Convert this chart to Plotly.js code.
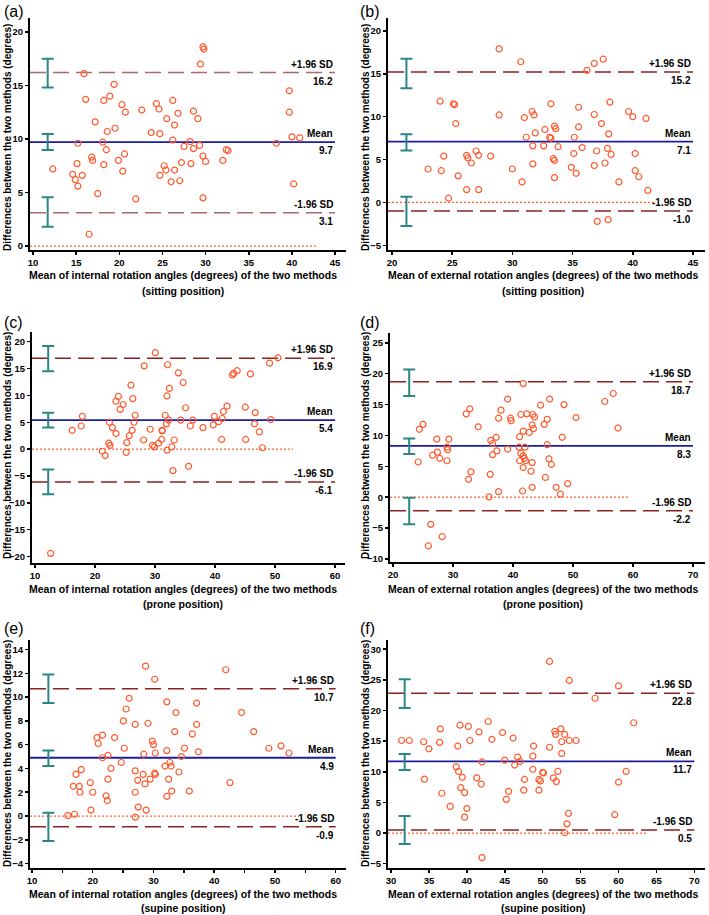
<!DOCTYPE html>
<html><head><meta charset="utf-8">
<script src="https://cdn.plot.ly/plotly-3.0.1.min.js"></script>
<style>html,body{margin:0;padding:0;background:#fff}#chart{width:709px;height:915px}</style>
</head><body><div id="chart"></div>
<script>
// ---------- data ----------
const panelLetters = ['(a)','(b)','(c)','(d)','(e)','(f)'];

const aMeanAngle = [29.7,29.8,29.4,15.9,19.4,18.9,16.1,18.2,20.3,20.7,22.6,24.3,24.6,26.2,26.8,25.5,26.4,28.6,29.1,17.2,18.6,19.5,23.7,24.7,15.2,18.1,18.5,26.2,28.2,27.5,28.6,29.3,32.4,32.6,38.2,39.7,39.7,40.0,40.9,40.2,16.8,16.9,15.1,18.2,19.9,20.6,20.4,12.3,14.6,14.9,15.7,15.2,17.5,21.9,16.5,29.7,30.0,32.0,27.2,28.3,25.2,25.4,26.4,24.7,26.0,27.0,29.7];
const aDifference = [18.6,18.4,17.0,16.1,15.1,14.0,13.7,13.6,13.2,12.5,12.7,13.3,12.8,13.6,12.4,11.9,11.3,12.6,11.9,11.6,10.7,11.0,10.6,10.5,9.6,9.7,9.0,9.9,9.75,9.3,9.1,9.4,9.0,8.9,9.6,14.5,12.5,10.2,10.1,5.8,8.3,8.0,7.7,7.6,8.0,8.6,7.0,7.2,6.7,6.2,6.6,5.6,4.9,4.4,1.1,8.4,7.9,8.0,7.8,7.7,7.5,7.1,7.1,6.6,6.0,6.1,4.5];

const bMeanAngle = [28.9,30.7,37.55,36.8,36.2,24.0,25.1,25.2,25.3,28.9,31.0,31.65,31.8,33.2,35.5,38.1,36.8,39.65,40.0,41.1,37.4,35.5,33.5,33.6,32.7,31.9,31.15,33.1,33.2,35.15,38.0,31.7,32.6,33.8,35.8,37.9,37.0,38.2,40.2,35.1,24.3,26.2,26.3,27.2,27.0,26.6,28.2,23.0,24.1,25.5,26.2,27.2,24.7,30.0,30.8,31.7,33.4,33.5,33.5,34.9,35.3,36.8,37.7,40.2,40.5,38.85,41.25,37.05,37.95];
const bDifference = [17.9,16.4,16.7,16.2,15.4,11.8,11.5,11.4,9.2,10.2,9.9,10.6,10.2,11.5,11.1,11.7,10.25,10.6,10.0,9.8,9.2,8.8,8.9,8.6,8.5,8.1,7.6,7.6,7.5,7.6,8.0,6.6,6.6,6.5,6.4,6.3,6.0,5.6,5.7,5.7,5.4,5.5,5.2,5.5,6.0,4.6,5.4,3.9,3.7,3.1,1.5,1.5,0.5,3.9,2.4,4.5,5.1,4.9,2.9,4.1,3.4,4.3,4.6,3.7,3.0,2.4,1.4,-2.2,-2.0];

const cMeanAngle = [12.6,30.05,50.5,28.2,32.1,33.9,34.7,32.4,32.0,49.1,42.9,43.1,43.7,45.9,26.0,23.9,23.5,24.7,26.3,24.2,26.7,35.1,42.0,41.4,45.05,46.7,17.9,16.2,17.7,22.4,22.9,23.5,25.7,26.2,26.5,29.2,31.2,31.2,31.7,31.9,32.3,34.3,35.9,36.3,38.0,39.7,39.9,40.6,41.2,49.3,46.6,47.4,41.1,45.1,47.9,25.3,22.3,22.5,21.2,21.7,25.2,28.1,29.6,29.9,30.6,31.1,32.0,32.8,33.2,33.0,35.6];
const cDifference = [-19.4,17.95,17.0,15.5,15.7,14.2,12.4,11.3,9.9,16.0,13.8,14.1,14.6,14.0,11.9,9.8,8.9,8.3,9.4,7.4,6.3,7.7,8.0,7.0,7.8,6.8,6.1,3.5,4.3,5.0,4.0,2.9,2.5,3.5,5.0,3.7,3.5,3.4,6.3,4.7,5.4,5.4,4.3,5.4,4.0,4.5,6.1,5.1,5.7,5.5,4.7,3.2,1.8,1.8,0.25,1.2,1.1,0.7,-0.4,-1.2,-0.6,1.7,0.7,0.4,1.1,1.8,-0.2,0.4,1.7,-4.0,-3.2];

const dMeanAngle = [41.7,56.7,55.3,46.1,48.5,44.6,39.1,32.8,32.2,38.0,37.6,39.6,39.7,41.3,42.3,43.3,43.6,45.7,50.5,45.2,43.2,43.4,42.7,41.7,41.1,34.2,57.5,48.2,25.0,24.4,27.3,29.3,37.2,36.3,36.6,29.0,29.1,27.4,26.6,27.8,29.0,24.2,39.1,37.3,36.6,41.0,42.0,45.7,41.3,41.7,41.9,41.1,42.1,43.2,46.0,46.4,41.7,43.0,33.0,32.6,36.2,45.4,49.1,47.2,47.9,43.2,41.6,37.6,36.0,26.3,28.2,25.9];
const dDifference = [18.4,16.8,15.5,15.9,15.0,14.9,15.9,14.3,13.5,14.1,12.8,12.8,12.4,13.4,13.5,13.4,13.0,12.6,12.9,11.8,11.7,11.1,10.5,10.7,9.8,11.4,11.2,9.7,11.8,11.0,9.4,9.4,9.7,9.2,8.7,8.1,7.7,7.3,6.8,6.3,5.9,5.7,7.8,7.5,6.9,8.1,8.1,8.5,7.1,6.7,6.3,5.9,5.9,5.6,6.2,5.3,4.8,4.2,4.1,2.9,3.7,3.2,2.2,1.6,0.5,1.6,1.0,0.9,0.05,-4.4,-6.4,-7.9];

const eMeanAngle = [28.7,41.9,30.2,26.0,32.2,37.1,25.5,33.7,44.5,25.05,27.0,29.1,37.1,33.5,46.5,36.4,20.7,21.6,23.6,20.9,29.8,30.0,25.2,35.1,32.2,37.4,49.0,51.0,52.3,21.6,22.5,28.4,30.3,32.7,34.6,24.7,31.9,32.9,18.1,17.25,23.0,27.0,28.3,30.2,30.3,34.2,22.5,27.4,29.45,28.6,32.5,16.8,17.8,19.6,17.9,20.0,22.2,22.4,27.0,33.0,32.2,35.9,42.6,19.7,27.5,28.8,15.9,17.0,27.0];
const eDifference = [12.6,12.3,11.5,9.9,9.6,9.5,9.0,8.7,8.7,8.0,7.7,7.8,7.7,7.1,7.1,6.9,6.6,6.8,6.6,6.1,6.3,6.0,5.7,5.7,5.5,5.4,5.7,5.9,5.3,4.9,5.1,5.2,5.3,4.5,5.0,4.5,4.2,4.2,3.9,3.5,4.0,3.8,3.5,3.6,3.5,3.7,3.1,3.0,3.1,2.7,3.1,2.5,2.5,2.8,2.0,2.0,1.7,1.3,2.0,2.1,1.65,2.1,2.8,0.5,0.75,0.5,0.03,0.15,-0.1];

const fMeanAngle = [50.9,53.5,60.0,56.9,62.0,42.8,39.1,40.2,36.5,41.6,44.7,46.1,43.3,51.6,51.7,52.4,52.9,31.4,32.4,34.3,36.4,40.4,52.5,53.5,54.4,35.0,38.8,48.8,50.9,52.5,46.7,48.7,42.0,45.0,46.3,47.0,38.6,38.9,48.7,50.0,50.1,52.0,61.0,34.4,39.4,41.3,41.9,47.6,49.5,49.7,51.4,51.8,60.0,39.2,39.7,36.7,45.5,47.5,49.5,45.2,37.8,40.0,39.7,53.4,59.5,53.2,52.9,42.0];
const fDifference = [28.0,24.9,24.0,22.0,18.0,18.2,17.6,17.4,17.0,16.5,16.4,15.5,15.3,16.6,16.1,17.0,16.1,15.1,15.1,14.9,14.8,15.1,14.9,15.1,15.1,13.75,14.2,14.2,14.0,13.0,12.4,12.55,11.6,11.9,11.1,11.7,10.8,10.05,10.4,9.9,9.8,10.05,10.05,8.8,9.1,9.0,8.0,8.75,8.75,8.5,9.0,8.4,8.3,7.4,6.6,6.5,6.8,7.0,7.0,5.5,4.35,4.0,2.6,3.2,3.0,1.5,0.05,-4.0];

// Bland-Altman statistics per panel (a..f)
const meanDiff  = [9.7, 7.1, 5.4, 8.3, 4.9, 11.7];
const upperLoA  = [16.2, 15.2, 16.9, 18.7, 10.7, 22.8];
const lowerLoA  = [3.1, -1.0, -6.1, -2.2, -0.9, 0.5];
// 95% confidence intervals of mean / limits
const meanCILow  = [8.97, 6.05, 4.04, 7.0, 4.2, 10.3];
const meanCIHigh = [10.47, 7.95, 6.77, 9.5, 5.5, 12.9];
const upperCILow  = [14.8, 13.3, 14.5, 16.4, 9.5, 20.4];
const upperCIHigh = [17.5, 16.75, 19.2, 20.7, 11.9, 25.1];
const lowerCILow  = [1.8, -2.74, -8.4, -4.4, -2.1, -1.8];
const lowerCIHigh = [4.55, 0.68, -3.8, -0.1, 0.28, 2.8];
const ciPosition  = [11.7, 21.2, 12.2, 22.7, 12.7, 31.8];
const zeroLineEnd = [42.8, 41.8, 53.0, 59.5, 54.0, 63.8];

// tick labels
const aXTicks = [10,15,20,25,30,35,40,45];
const bXTicks = [20,25,30,35,40,45];
const cXTicks = [10,20,30,40,50,60];
const dXTicks = [20,30,40,50,60,70];
const eXTicks = [10,15,20,25,30,35,40,45,50,55,60];
const eXTickText = ['10','','20','','30','','40','','50','','60'];
const fXTicks = [30,35,40,45,50,55,60,65,70];
const aYTicks = [0,5,10,15,20];
const bYTicks = [-5,0,5,10,15,20];
const cYTicks = [-20,-15,-10,-5,0,5,10,15,20];
const dYTicks = [-10,-5,0,5,10,15,20,25];
const eYTicks = [-4,-2,0,2,4,6,8,10,12,14];
const fYTicks = [-5,0,5,10,15,20,25,30];

const yTitleText = 'Differences between the two methods (degrees)';
const xTitleLine1 = [
  'Mean of internal rotation angles (degrees) of the two methods',
  'Mean of external rotation angles (degrees) of the two methods',
  'Mean of internal rotation angles (degrees) of the two methods',
  'Mean of external rotation angles (degrees) of the two methods',
  'Mean of internal rotation angles (degrees) of the two methods',
  'Mean of external rotation angles (degrees) of the two methods'];
const xTitleLine2 = ['(sitting position)','(sitting position)','(prone position)','(prone position)','(supine position)','(supine position)'];

// ---------- layout geometry (pixels) ----------
const W = 709, H = 915;
const panels = [
  {mx:aMeanAngle, dy:aDifference, px:[30,346], py:[18,250], xr:[9.65,46.27], yr:[-0.37,21.3], xt:aXTicks, xtt:null, yt:aYTicks, sd:'#a86a6a'},
  {mx:bMeanAngle, dy:bDifference, px:[388,705], py:[18,250], xr:[19.67,46.0], yr:[-5.54,21.5], xt:bXTicks, xtt:null, yt:bYTicks, sd:'#8b2222'},
  {mx:cMeanAngle, dy:cDifference, px:[32,345], py:[332,563], xr:[9.5,61.67], yr:[-21.2,21.8], xt:cXTicks, xtt:null, yt:cYTicks, sd:'#8b2222'},
  {mx:dMeanAngle, dy:dDifference, px:[390,705], py:[333,562], xr:[19.5,72.0], yr:[-10.5,26.6], xt:dXTicks, xtt:null, yt:dYTicks, sd:'#8b2222'},
  {mx:eMeanAngle, dy:eDifference, px:[30,346], py:[640,868], xr:[9.67,61.7], yr:[-4.37,14.8], xt:eXTicks, xtt:eXTickText, yt:eYTicks, sd:'#8b2222'},
  {mx:fMeanAngle, dy:fDifference, px:[388,705], py:[640,868], xr:[29.6,71.4], yr:[-5.7,31.5], xt:fXTicks, xtt:null, yt:fYTicks, sd:'#8b2222'}
];
const labelPos = [
  {lx:2, ly:11, yx:7, yy:138, tx:183, t1:275, t2:291},
  {lx:358, ly:11, yx:365, yy:138, tx:543, t1:275, t2:291},
  {lx:2, ly:322, yx:7, yy:446, tx:183, t1:589, t2:604},
  {lx:358, ly:322, yx:365, yy:446, tx:543, t1:589, t2:604},
  {lx:2, ly:628, yx:7, yy:754, tx:183, t1:894, t2:908},
  {lx:358, ly:628, yx:365, yy:754, tx:543, t1:894, t2:908}
];

const FONT = '"Liberation Sans", Arial, Helvetica, sans-serif';
const ptColor = '#ff5a2e';
const traces = [];
const layout = {
  width: W, height: H, margin: {l:0, r:0, t:0, b:0},
  paper_bgcolor: '#ffffff', plot_bgcolor: 'rgba(0,0,0,0)',
  showlegend: false, font: {family: FONT, color: '#000'},
  annotations: []
};
const fx = p => p / W, fy = p => 1 - p / H;

panels.forEach((p, i) => {
  const n = i + 1;
  const xa = n === 1 ? 'x' : 'x' + n, ya = n === 1 ? 'y' : 'y' + n;
  const xKey = n === 1 ? 'xaxis' : 'xaxis' + n, yKey = n === 1 ? 'yaxis' : 'yaxis' + n;
  const xEnd = p.xt[p.xt.length - 1];
  layout[xKey] = {
    domain: [fx(p.px[0]), fx(p.px[1])], range: p.xr, anchor: ya,
    tickmode: 'array', tickvals: p.xt, ticktext: p.xtt || p.xt.map(String),
    ticks: 'outside', ticklen: 3, tickwidth: 1.5, tickcolor: '#000',
    showline: true, linecolor: '#000', linewidth: 2, showgrid: false, zeroline: false,
    tickfont: {family: FONT, size: 9.5, weight: 700, color: '#000'}, fixedrange: true
  };
  layout[yKey] = {
    domain: [fy(p.py[1]), fy(p.py[0])], range: p.yr, anchor: xa,
    tickmode: 'array', tickvals: p.yt,
    ticks: 'outside', ticklen: 3, tickwidth: 1.5, tickcolor: '#000',
    showline: true, linecolor: '#000', linewidth: 2, showgrid: false, zeroline: false,
    tickfont: {family: FONT, size: 9.5, weight: 700, color: '#000'}, fixedrange: true
  };
  const x0 = p.xr[0];
  // zero reference line (dotted)
  traces.push({x:[x0, zeroLineEnd[i]], y:[0,0], xaxis:xa, yaxis:ya, mode:'lines',
    line:{color:'#ff6633', width:1.2, dash:'2px,2px'}, hoverinfo:'skip'});
  // limits of agreement (dashed)
  traces.push({x:[x0, xEnd], y:[upperLoA[i], upperLoA[i]], xaxis:xa, yaxis:ya, mode:'lines',
    line:{color:p.sd, width:1.5, dash:'16px,7px'}, hoverinfo:'skip'});
  traces.push({x:[x0, xEnd], y:[lowerLoA[i], lowerLoA[i]], xaxis:xa, yaxis:ya, mode:'lines',
    line:{color:p.sd, width:1.5, dash:'16px,7px'}, hoverinfo:'skip'});
  // mean difference
  traces.push({x:[x0, xEnd], y:[meanDiff[i], meanDiff[i]], xaxis:xa, yaxis:ya, mode:'lines',
    line:{color:'#1c1ca0', width:1.8}, hoverinfo:'skip'});
  // confidence intervals
  const lo = [upperCILow[i], meanCILow[i], lowerCILow[i]];
  const hi = [upperCIHigh[i], meanCIHigh[i], lowerCIHigh[i]];
  const mid = lo.map((v, k) => (v + hi[k]) / 2);
  traces.push({x:[ciPosition[i], ciPosition[i], ciPosition[i]], y:mid, xaxis:xa, yaxis:ya, mode:'markers',
    marker:{size:1, color:'rgba(0,0,0,0)'},
    error_y:{type:'data', symmetric:false, array:hi.map((v,k)=>v-mid[k]), arrayminus:mid.map((v,k)=>v-lo[k]),
      color:'#2b8783', thickness:2, width:6}, hoverinfo:'skip'});
  // observations
  traces.push({x:p.mx, y:p.dy, xaxis:xa, yaxis:ya, mode:'markers',
    marker:{symbol:'circle-open', size:6, color:ptColor, line:{width:1.2, color:ptColor}}});

  // line labels
  const lab = (y, txt, above) => layout.annotations.push({
    xref:xa, yref:ya, x:xEnd, y:y, text:txt, showarrow:false, xanchor:'right',
    yanchor: above ? 'bottom' : 'top', yshift: above ? 1 : -1,
    font:{family:FONT, size:10, weight:700, color:'#000'}
  });
  lab(upperLoA[i], '+1.96 SD', true); lab(upperLoA[i], upperLoA[i].toFixed(1), false);
  lab(meanDiff[i], 'Mean', true); lab(meanDiff[i], meanDiff[i].toFixed(1), false);
  lab(lowerLoA[i], '-1.96 SD', true); lab(lowerLoA[i], lowerLoA[i].toFixed(1), false);

  const L = labelPos[i];
  layout.annotations.push({xref:'paper', yref:'paper', x:fx(L.lx), y:fy(L.ly), text:panelLetters[i],
    showarrow:false, xanchor:'left', yanchor:'middle', font:{family:FONT, size:16, color:'#000'}});
  layout.annotations.push({xref:'paper', yref:'paper', x:fx(L.yx), y:fy(L.yy), text:yTitleText, textangle:-90,
    showarrow:false, xanchor:'center', yanchor:'middle', font:{family:FONT, size:10, weight:700, color:'#000'}});
  layout.annotations.push({xref:'paper', yref:'paper', x:fx(L.tx), y:fy(L.t1), text:xTitleLine1[i],
    showarrow:false, xanchor:'center', yanchor:'middle', font:{family:FONT, size:10.5, weight:700, color:'#000'}});
  layout.annotations.push({xref:'paper', yref:'paper', x:fx(L.tx), y:fy(L.t2), text:xTitleLine2[i],
    showarrow:false, xanchor:'center', yanchor:'middle', font:{family:FONT, size:10.5, weight:700, color:'#000'}});
});

Plotly.newPlot('chart', traces, layout, {displayModeBar:false, staticPlot:true});
</script>
</body></html>
